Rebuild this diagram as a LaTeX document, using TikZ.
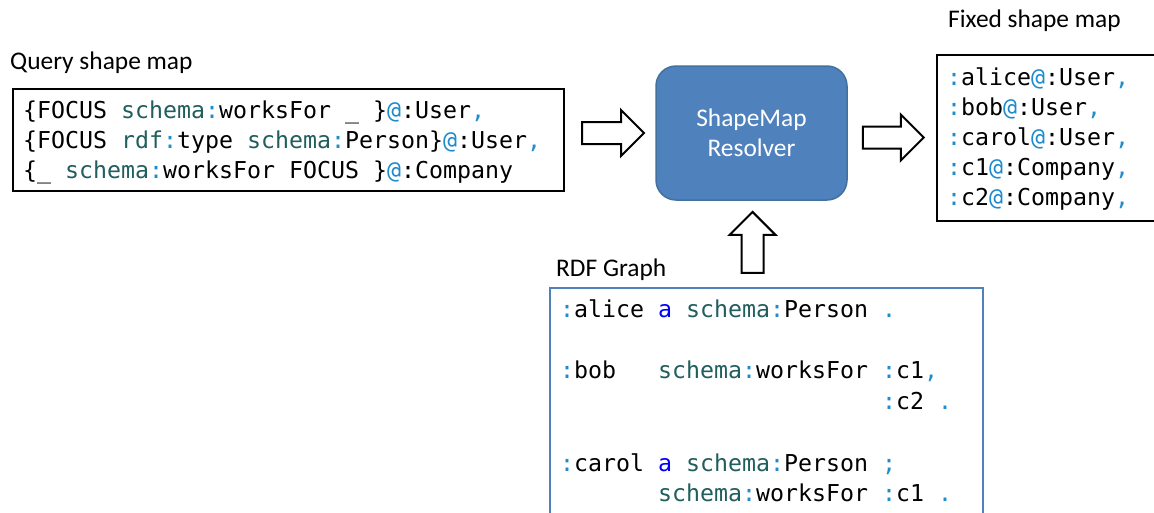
\documentclass[tikz,border=0pt]{standalone}
\usepackage{fontspec}
\usetikzlibrary{calc}
\setmainfont{Carlito}
\newfontfamily\codefont{DejaVu Sans Mono}
\definecolor{tealc}{HTML}{215E5E}
\definecolor{lblue}{HTML}{1E8BCD}
\definecolor{kwblue}{HTML}{0000FF}
\definecolor{resfill}{HTML}{4F81BD}
\definecolor{resdraw}{HTML}{41719C}
\newcommand\tealpart[1]{\textcolor{tealc}{#1}}
\newcommand\bluepart[1]{\textcolor{lblue}{#1}}
\newcommand\kwpart[1]{\textcolor{kwblue}{#1}}
\newcommand\hollowarrow[3]{%
  \draw[blockarr, shift={#1}, rotate=#2]
    (0,-11) -- (#3-23,-11) -- (#3-23,-23) -- (#3,0) -- (#3-23,23) -- (#3-23,11) -- (0,11) -- cycle;}
\tikzset{
  codeline/.style={anchor=base west, inner sep=0pt, font=\codefont\fontsize{23.25}{28}\selectfont, text=black},
  lbl/.style={anchor=base west, inner sep=0pt, font=\fontsize{25.4}{30}\selectfont},
  mapbox/.style={draw=black, line width=2pt, inner sep=0pt},
  rdfbox/.style={draw=resfill, line width=2.2pt, inner sep=0pt},
  resolver/.style={draw=resdraw, line width=1.5pt, fill=resfill, rounded corners=20pt,
    minimum width=191pt, minimum height=134pt, text=white, align=center,
    font=\fontsize{25.4}{30}\selectfont},
  blockarr/.style={draw=black, line width=2pt, fill=white, line join=miter}
}
\begin{document}
\begin{tikzpicture}[x=1pt, y=-1pt]
\useasboundingbox (0,0) rectangle (1154,512);
\clip (0,0) rectangle (1154,512);
\fill[white] (0,0) rectangle (1154,512);

% labels
\node[lbl] (qlbl) at (10,69) {Query shape map};
\node[lbl] (flbl) at (948,27.5) {Fixed shape map};
\node[lbl] (rlbl) at (556,276) {RDF Graph};

% boxes
\node[mapbox, minimum width=551pt, minimum height=102pt] (qbox) at (288.5,140) {};
\node[resolver] (res) at (751.5,133) {ShapeMap\\Resolver};
\node[mapbox, line width=2.4pt, minimum width=223pt, minimum height=166pt] (fbox) at (1048.5,138) {};
\node[rdfbox, minimum width=433pt, minimum height=242pt] (rbox) at (766.5,409) {};

% query lines
\node[codeline] (q1) at (23,118) {\{FOCUS \tealpart{schema}\bluepart{:}worksFor \_ \}\bluepart{@}:User\bluepart{,}};
\node[codeline] (q2) at (23,148) {\{FOCUS \tealpart{rdf}\bluepart{:}type \tealpart{schema}\bluepart{:}Person\}\bluepart{@}:User\bluepart{,}};
\node[codeline] (q3) at (23,178) {\{\_ \tealpart{schema}\bluepart{:}worksFor FOCUS \}\bluepart{@}:Company};

% fixed lines
\node[codeline] (f1) at (947,85) {\bluepart{:}alice\bluepart{@}:User\bluepart{,}};
\node[codeline] (f2) at (947,115) {\bluepart{:}bob\bluepart{@}:User\bluepart{,}};
\node[codeline] (f3) at (947,145) {\bluepart{:}carol\bluepart{@}:User\bluepart{,}};
\node[codeline] (f4) at (947,175) {\bluepart{:}c1\bluepart{@}:Company\bluepart{,}};
\node[codeline] (f5) at (947,205) {\bluepart{:}c2\bluepart{@}:Company\bluepart{,}};

% rdf lines
\node[codeline] (r1) at (560,317.5) {\bluepart{:}alice \kwpart{a} \tealpart{schema}\bluepart{:}Person \bluepart{.}};
\node[codeline] (r2) at (560,378.9) {\bluepart{:}bob~~~\tealpart{schema}\bluepart{:}worksFor \bluepart{:}c1\bluepart{,}};
\node[codeline] (r3) at (882,409.6) {\bluepart{:}c2 \bluepart{.}};
\node[codeline] (r4) at (560,471) {\bluepart{:}carol \kwpart{a} \tealpart{schema}\bluepart{:}Person \bluepart{;}};
\node[codeline] (r5) at (658,501.7) {\tealpart{schema}\bluepart{:}worksFor \bluepart{:}c1 \bluepart{.}};

% block arrows
\coordinate (a1) at ($(qbox.east)+(17,-7)$);
\coordinate (a2) at ($(res.east)+(15,4.5)$);
\coordinate (a3) at ($(rbox.north)+(-14,-14)$);
\hollowarrow{(a1)}{0}{62}
\hollowarrow{(a2)}{0}{61}
\hollowarrow{(a3)}{90}{61}
\end{tikzpicture}
\end{document}
